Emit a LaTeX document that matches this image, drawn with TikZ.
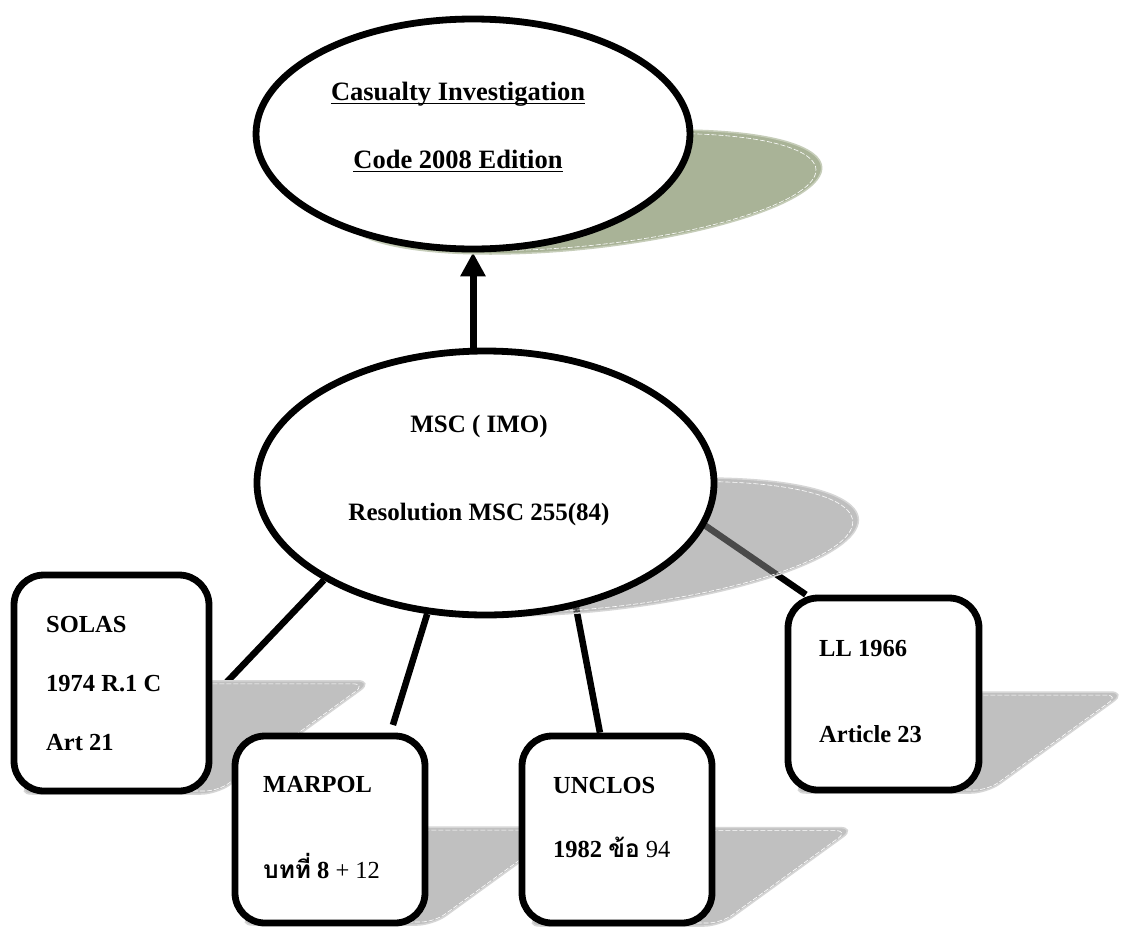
\documentclass[tikz,border=0pt]{standalone}
\usepackage{fontspec}
\setmainfont{Liberation Serif}
\newfontfamily\thaifont[Script=Thai]{Loma}
\usetikzlibrary{shapes.geometric,arrows.meta,calc}
\definecolor{shadowgreen}{RGB}{169,179,151}
\definecolor{shadowgreenedge}{RGB}{198,205,185}
\definecolor{shadowgray}{RGB}{192,192,192}
\definecolor{shadowgrayedge}{RGB}{214,214,214}
\definecolor{shadowtint}{RGB}{138,138,138}
\pgfdeclarelayer{paper}
\pgfdeclarelayer{bglines}
\pgfdeclarelayer{shadows}
\pgfsetlayers{paper,bglines,shadows,main}
\tikzset{
  bigellipse/.style={ellipse, draw=black, line width=6.8pt, fill=white, inner sep=0pt},
  docbox/.style={rectangle, rounded corners=30pt, draw=black, line width=6.8pt, fill=white, inner sep=0pt},
  lbl/.style={inner sep=0pt, font=\fontsize{24.5}{28}\selectfont\bfseries},
  msclbl/.style={inner sep=0pt, font=\fontsize{25}{29}\selectfont\bfseries},
  toplbl/.style={inner sep=0pt, font=\fontsize{26.5}{31}\selectfont\bfseries},
  conn/.style={line width=6.5pt, draw=black},
  shadowfill/.style={fill=shadowgray, draw=shadowgrayedge, line width=1.5pt},
  shadowdash/.style={draw=white, line width=0.6pt, dash pattern=on 5pt off 2pt},
}
\newcommand\boxshade[4]{%
  \begin{scope}[shift={(#1+5,#2)}, xslant=1.38, yscale=0.51]
    \path[shadowfill, rounded corners=16pt] (0,0) rectangle (#3,-#4);
    \path[shadowdash, rounded corners=13pt] (3,-6) rectangle (#3-3,-#4+6);
  \end{scope}}
\begin{document}
\begin{tikzpicture}[x=1pt,y=-1pt]
\useasboundingbox (0,0) rectangle (1140,929);
\begin{pgfonlayer}{paper}
  \fill[white] (0,0) rectangle (1140,929);
\end{pgfonlayer}

% main shapes
\node[bigellipse, minimum width=434pt, minimum height=230pt] (code) at (473,134) {};
\node[bigellipse, minimum width=457pt, minimum height=264pt] (msc) at (485.5,483) {};
\node[docbox, minimum width=195pt, minimum height=216pt] (solas) at (111.5,683) {};
\node[docbox, minimum width=190pt, minimum height=187pt] (marpol) at (330,829.5) {};
\node[docbox, minimum width=190pt, minimum height=187pt] (unclos) at (617,829.5) {};
\node[docbox, minimum width=191pt, minimum height=192pt] (ll) at (883.5,694) {};

% shadows
\begin{pgfonlayer}{shadows}
  \begin{scope}[shift={(583,192)}, xslant=1.49]
    \path[fill=shadowgreen, draw=shadowgreenedge, line width=1.5pt] (0,0) ellipse [x radius=220pt, y radius=62pt];
    \path[shadowdash] (0,0) ellipse [x radius=216pt, y radius=58.5pt];
  \end{scope}
  \begin{scope}[shift={(605,547)}, xslant=1.44]
    \fill[shadowtint, fill opacity=0.54] (0,0) ellipse [x radius=233pt, y radius=69pt];
    \draw[shadowgrayedge, line width=1.5pt] (0,0) ellipse [x radius=233pt, y radius=69pt];
    \path[shadowdash] (0,0) ellipse [x radius=229pt, y radius=65.5pt];
  \end{scope}
  \boxshade{11}{794}{201}{222}
  \boxshade{232}{925}{196}{192}
  \boxshade{519}{926}{196}{193}
  \boxshade{785}{793}{197}{198}
\end{pgfonlayer}

% connectors
\begin{pgfonlayer}{bglines}
  \draw[line width=7pt, -{Triangle[width=24pt,length=24pt]}] (code.south |- msc.north) -- (code.south);
  \draw[conn] (msc.211.5) -- (solas.-8);
  \draw[conn, shorten >=8pt] (msc.246.8) -- (marpol.58);
  \draw[conn] (msc.306.5) -- (unclos.100);
  \draw[conn] (msc.-11.7) -- (ll.128);
\end{pgfonlayer}

% texts
\node[toplbl, anchor=base] (t1) at (458,100) {Casualty Investigation};
\node[toplbl, anchor=base] (t2) at (458,168) {Code 2008 Edition};
\draw[line width=1.6pt] ([yshift=-3.5pt]t1.base west) -- ([yshift=-3.5pt]t1.base east);
\draw[line width=1.6pt] ([yshift=-3.5pt]t2.base west) -- ([yshift=-3.5pt]t2.base east);

\node[msclbl, anchor=base] (m1) at (479,432) {MSC ( IMO)};
\node[msclbl, anchor=base] (m2) at (479,520) {Resolution MSC 255(84)};

\node[lbl, anchor=base west] (s1) at (46,632) {SOLAS};
\node[lbl, anchor=base west] (s2) at (46,691) {1974 R.1 C};
\node[lbl, anchor=base west] (s3) at (46,750) {Art 21};

\node[lbl, anchor=base west] (p1) at (263,792) {MARPOL};
\node[lbl, anchor=base west] (p2) at (263,878) {{\thaifont บทที่} 8 {\mdseries + 12}};

\node[lbl, anchor=base west] (u1) at (553,793) {UNCLOS};
\node[lbl, anchor=base west] (u2) at (553,857) {1982 {\thaifont ข้อ} {\mdseries 94}};

\node[lbl, anchor=base west] (l1) at (819,656) {LL 1966};
\node[lbl, anchor=base west] (l2) at (819,742) {Article 23};
\end{tikzpicture}
\end{document}
